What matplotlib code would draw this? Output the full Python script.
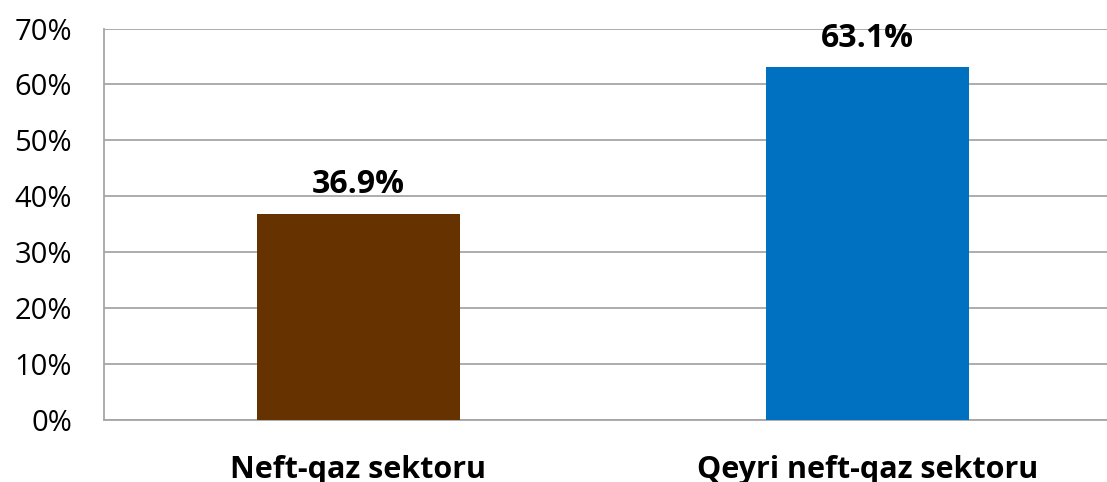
import matplotlib.pyplot as plt
from matplotlib.ticker import FuncFormatter

# data
categories = ['Neft-qaz sektoru', 'Qeyri neft-qaz sektoru']
shares = [36.9, 63.1]
bar_colors = ['#663300', '#0070C0']

plt.rcParams['font.family'] = ['Open Sans', 'DejaVu Sans']

fig = plt.figure(figsize=(11.07, 4.82), dpi=100)
ax = fig.add_axes([104 / 1107, 62 / 482, 1018 / 1107, 391.5 / 482])

x = range(len(categories))
bars = ax.bar(x, shares, width=0.4, color=bar_colors, zorder=3)

ax.set_xlim(-0.5, 1.5)
ax.set_ylim(0, 70)
ax.set_yticks(range(0, 71, 10))
ax.yaxis.set_major_formatter(FuncFormatter(lambda v, p: f'{v:.0f}%'))
ax.set_xticks(list(x))
ax.set_xticklabels(categories, fontsize=22, fontweight='bold')

ax.grid(axis='y', color='#A6A6A6', linewidth=1.3, zorder=0)
ax.tick_params(axis='y', length=0, labelsize=21, pad=23)
ax.tick_params(axis='x', length=0, pad=25.5)
for side in ['top', 'right']:
    ax.spines[side].set_visible(False)
for side in ['left', 'bottom']:
    ax.spines[side].set_color('#A6A6A6')
    ax.spines[side].set_linewidth(1.3)

for b, v in zip(bars, shares):
    ax.annotate(f'{v:.1f}%', (b.get_x() + b.get_width() / 2, v),
                xytext=(0, 14.5), textcoords='offset points',
                ha='center', va='baseline', fontsize=23, fontweight='bold')

fig.savefig('out.png', dpi=100)
